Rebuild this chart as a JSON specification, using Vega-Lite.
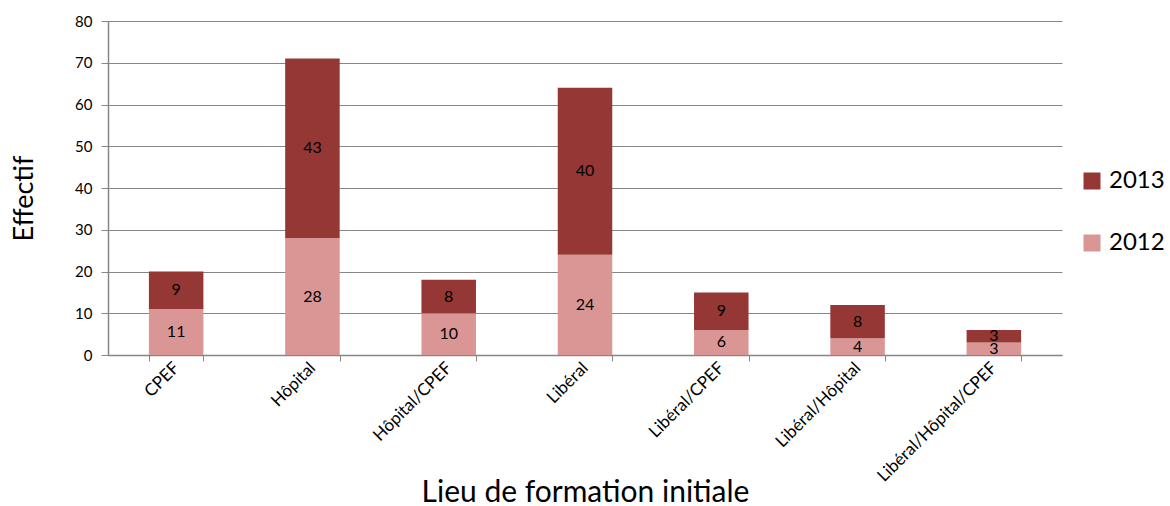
{
  "$schema": "https://vega.github.io/schema/vega-lite/v6.json",
  "width": 954,
  "height": 334,
  "autosize": {"type": "none"},
  "padding": {"left": 108, "top": 21, "right": 108, "bottom": 151},
  "background": "white",
  "config": {
    "font": "Lato",
    "view": {"stroke": null},
    "axis": {"labelFont": "Lato", "titleFont": "Lato", "labelColor": "black", "titleColor": "black", "titleFontWeight": "normal"},
    "legend": {"labelFont": "Lato"}
  },
  "data": {
    "values": [
      {"lieu": "CPEF", "annee": "2012", "effectif": 11},
      {"lieu": "CPEF", "annee": "2013", "effectif": 9},
      {"lieu": "Hôpital", "annee": "2012", "effectif": 28},
      {"lieu": "Hôpital", "annee": "2013", "effectif": 43},
      {"lieu": "Hôpital/CPEF", "annee": "2012", "effectif": 10},
      {"lieu": "Hôpital/CPEF", "annee": "2013", "effectif": 8},
      {"lieu": "Libéral", "annee": "2012", "effectif": 24},
      {"lieu": "Libéral", "annee": "2013", "effectif": 40},
      {"lieu": "Libéral/CPEF", "annee": "2012", "effectif": 6},
      {"lieu": "Libéral/CPEF", "annee": "2013", "effectif": 9},
      {"lieu": "Libéral/Hôpital", "annee": "2012", "effectif": 4},
      {"lieu": "Libéral/Hôpital", "annee": "2013", "effectif": 8},
      {"lieu": "Libéral/Hôpital/CPEF", "annee": "2012", "effectif": 3},
      {"lieu": "Libéral/Hôpital/CPEF", "annee": "2013", "effectif": 3}
    ]
  },
  "transform": [
    {"stack": "effectif", "groupby": ["lieu"], "sort": [{"field": "annee", "order": "ascending"}], "as": ["y0", "y1"]},
    {"calculate": "(datum.y0 + datum.y1) / 2", "as": "ymid"}
  ],
  "encoding": {
    "x": {
      "field": "lieu",
      "type": "nominal",
      "sort": null,
      "scale": {"paddingInner": 0.6, "paddingOuter": 0.3},
      "axis": {
        "title": "Lieu de formation initiale",
        "titleFontSize": 30,
        "titleBaseline": "alphabetic",
        "titleY": 146,
        "labelAngle": -45,
        "labelAlign": "right",
        "labelBaseline": "middle",
        "labelFontSize": 17,
        "labelPadding": 4,
        "tickBand": "extent",
        "tickColor": "#868686",
        "tickSize": 6,
        "domainColor": "#868686",
        "domainWidth": 1.5,
        "grid": false
      }
    }
  },
  "layer": [
    {
      "mark": {"type": "bar"},
      "encoding": {
        "y": {
          "field": "y0",
          "type": "quantitative",
          "scale": {"domain": [0, 80]},
          "axis": {
            "title": "Effectif",
            "titleFontSize": 27,
            "titlePadding": 36,
            "titleY": 177,
            "values": [0, 10, 20, 30, 40, 50, 60, 70, 80],
            "labelFontSize": 15,
            "labelPadding": 9,
            "tickColor": "#868686",
            "tickSize": 7,
            "domainColor": "#868686",
            "domainWidth": 1.5,
            "gridColor": "#868686",
            "gridWidth": 1
          }
        },
        "y2": {"field": "y1"},
        "color": {
          "field": "annee",
          "type": "nominal",
          "scale": {"domain": ["2013", "2012"], "range": ["#953735", "#D99694"]},
          "legend": {
            "title": null,
            "orient": "none",
            "legendX": 972,
            "legendY": 148,
            "symbolType": "square",
            "symbolSize": 289,
            "symbolStrokeWidth": 0,
            "labelFontSize": 24,
            "rowPadding": 38,
            "labelOffset": 5
          }
        }
      }
    },
    {
      "mark": {"type": "text", "fontSize": 16, "color": "black", "baseline": "middle"},
      "encoding": {
        "y": {"field": "ymid", "type": "quantitative"},
        "text": {"field": "effectif", "type": "quantitative"}
      }
    }
  ]
}
